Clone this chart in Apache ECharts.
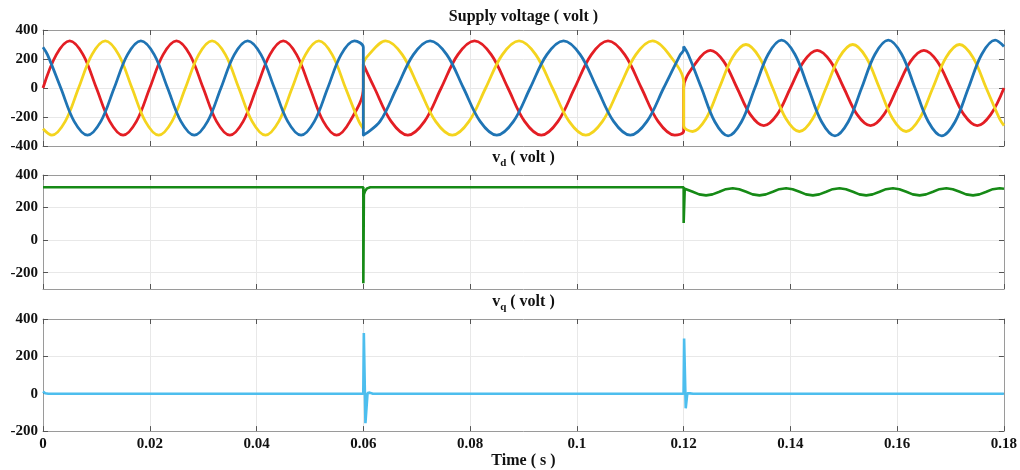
<!DOCTYPE html>
<html>
<head>
<meta charset="utf-8">
<script src="https://cdn.jsdelivr.net/npm/echarts@6/dist/echarts.min.js"></script>
<style>
  html, body { margin: 0; padding: 0; background: #fff; }
  #main { width: 1020px; height: 470px; }
</style>
</head>
<body>
<div id="main"></div>
<script>
// Supply voltages, one list of sample times per phase (each phase read at its own
// peaks / zero crossings). 0.06 and 0.12 appear twice: the jumps.
const redTime = [
  0, 0.0025, 0.005, 0.0075, 0.01, 0.0125, 0.015, 0.0175, 0.02, 0.0225, 0.025, 0.0275, 0.03,
  0.0325, 0.035, 0.0375, 0.04, 0.0425, 0.045, 0.0475, 0.05, 0.0525, 0.055, 0.0575, 0.06,
  0.06, 0.062083, 0.065208, 0.068333, 0.071458, 0.074583, 0.077708, 0.080833, 0.083958, 0.087083,
  0.090208, 0.093333, 0.096458, 0.099583, 0.102708, 0.105833, 0.108958, 0.112083, 0.115208, 0.118333, 0.12,
  0.12, 0.1225, 0.125, 0.1275, 0.13, 0.1325, 0.135, 0.1375, 0.14, 0.1425, 0.145, 0.1475, 0.15,
  0.1525, 0.155, 0.1575, 0.16, 0.1625, 0.165, 0.1675, 0.17, 0.1725, 0.175, 0.1775, 0.18
];
const redValue = [
  0, 230, 325, 230, 0, -230, -325, -230, 0, 230, 325, 230, 0, -230, -325, -230, 0, 230, 325, 230, 0, -230, -325, -230, 0,
  163, 0, -230, -325, -230, 0, 230, 325, 230, 0, -230, -325, -230, 0, 230, 325, 230, 0, -230, -325, -297,
  0, 184, 260, 184, 0, -184, -260, -184, 0, 184, 260, 184, 0, -184, -260, -184, 0, 184, 260, 184, 0, -184, -260, -184, 0
];

const yellowTime = [
  0, 0.001667, 0.004167, 0.006667, 0.009167, 0.011667, 0.014167, 0.016667, 0.019167, 0.021667, 0.024167,
  0.026667, 0.029167, 0.031667, 0.034167, 0.036667, 0.039167, 0.041667, 0.044167, 0.046667, 0.049167,
  0.051667, 0.054167, 0.056667, 0.059167, 0.06,
  0.06, 0.061042, 0.064167, 0.067292, 0.070417, 0.073542, 0.076667, 0.079792, 0.082917, 0.086042, 0.089167,
  0.092292, 0.095417, 0.098542, 0.101667, 0.104792, 0.107917, 0.111042, 0.114167, 0.117292, 0.12,
  0.12, 0.121667, 0.124167, 0.126667, 0.129167, 0.131667, 0.134167, 0.136667, 0.139167, 0.141667, 0.144167,
  0.146667, 0.149167, 0.151667, 0.154167, 0.156667, 0.159167, 0.161667, 0.164167, 0.166667, 0.169167,
  0.171667, 0.174167, 0.176667, 0.179167, 0.18
];
const yellowValue = [
  -281, -325, -230, 0, 230, 325, 230, 0, -230, -325, -230, 0, 230, 325, 230, 0, -230,
  -325, -230, 0, 230, 325, 230, 0, -230, -281,
  163, 230, 325, 230, 0, -230, -325, -230, 0, 230, 325, 230, 0, -230, -325, -230, 0, 230, 325, 230, 34,
  -260, -300, -212, 0, 212, 300, 212, 0, -212, -300, -212, 0, 212, 300, 212, 0, -212,
  -300, -212, 0, 212, 300, 212, 0, -212, -260
];

const blueTime = [
  0, 0.000833, 0.003333, 0.005833, 0.008333, 0.010833, 0.013333, 0.015833, 0.018333, 0.020833, 0.023333,
  0.025833, 0.028333, 0.030833, 0.033333, 0.035833, 0.038333, 0.040833, 0.043333, 0.045833, 0.048333,
  0.050833, 0.053333, 0.055833, 0.058333, 0.06,
  0.06, 0.063125, 0.06625, 0.069375, 0.0725, 0.075625, 0.07875, 0.081875, 0.085, 0.088125, 0.09125,
  0.094375, 0.0975, 0.100625, 0.10375, 0.106875, 0.11, 0.113125, 0.11625, 0.119375, 0.12,
  0.12, 0.120833, 0.123333, 0.125833, 0.128333, 0.130833, 0.133333, 0.135833, 0.138333, 0.140833, 0.143333,
  0.145833, 0.148333, 0.150833, 0.153333, 0.155833, 0.158333, 0.160833, 0.163333, 0.165833, 0.168333,
  0.170833, 0.173333, 0.175833, 0.178333, 0.18
];
const blueValue = [
  281, 230, 0, -230, -325, -230, 0, 230, 325, 230, 0, -230, -325, -230, 0, 230, 325,
  230, 0, -230, -325, -230, 0, 230, 325, 281,
  -325, -230, 0, 230, 325, 230, 0, -230, -325, -230, 0, 230, 325, 230, 0, -230, -325, -230, 0, 230, 263,
  286, 233, 0, -233, -330, -233, 0, 233, 330, 233, 0, -233, -330, -233, 0, 233, 330,
  233, 0, -233, -330, -233, 0, 233, 330, 286
];

// d-axis voltage
const vdTime = [
  0, 0.06, 0.06, 0.0601, 0.0603, 0.0607, 0.0613, 0.12, 0.12, 0.1202, 0.1204, 0.1217, 0.1229,
  0.1242, 0.1254, 0.1267, 0.1279, 0.1292, 0.1304, 0.1317, 0.1329,
  0.1342, 0.1354, 0.1367, 0.1379, 0.1392, 0.1404, 0.1417, 0.1429,
  0.1442, 0.1454, 0.1467, 0.1479, 0.1492, 0.1504, 0.1517, 0.1529,
  0.1542, 0.1554, 0.1567, 0.1579, 0.1592, 0.1604, 0.1617, 0.1629,
  0.1642, 0.1654, 0.1667, 0.1679, 0.1692, 0.1704, 0.1717, 0.1729,
  0.1742, 0.1754, 0.1767, 0.1779, 0.1792, 0.18
];
const vdValue = [
  325, 325, -265, 280, 300, 318, 325, 325, 105, 316, 312, 297, 281,
  275, 281, 297, 313, 319, 313, 297, 281,
  275, 281, 297, 313, 319, 313, 297, 281,
  275, 281, 297, 313, 319, 313, 297, 281,
  275, 281, 297, 313, 319, 313, 297, 281,
  275, 281, 297, 313, 319, 313, 297, 281,
  275, 281, 297, 313, 319, 316
];

// q-axis voltage
const vqTime = [0, 0.0004, 0.001, 0.06, 0.0601, 0.0604, 0.0608, 0.0612, 0.0618, 0.12, 0.1201, 0.1204, 0.1207, 0.1212, 0.1218, 0.18];
const vqValue = [12, 3, 0, 0, 325, -158, 4, 6, 0, 0, 295, -78, 3, 2, 0, 0];

// axis ranges and tick labels
const timeRange = [0, 0.18];
const timeStep = 0.02;
const yRanges = [[-400, 400], [-300, 400], [-200, 400]];
const yTicks = [[-400, -200, 0, 200, 400], [-200, 0, 200, 400], [-200, 0, 200, 400]];
const panelTitles = ['{t|Supply voltage ( volt )}', '{t|v}{s|d}{t| ( volt )}', '{t|v}{s|q}{t| ( volt )}'];
const timeTitle = 'Time ( s )';

const FONT = 'Liberation Serif';
const frameColor = '#9a9a9a';
const tickColor = '#555';
const gridColor = '#e8e8e8';
const labelStyle = { fontFamily: FONT, fontWeight: 'bold', fontSize: 15, color: '#111' };

const gridTops = [30, 175, 319];
const gridHeights = [116, 114, 115];
const titleGaps = [2, 6, 6];

function pairs(t, v) {
  return t.map((x, i) => [x, v[i]]);
}

const grids = [], xAxes = [], yAxes = [];
for (let i = 0; i < 3; i++) {
  grids.push({ left: 43, right: 16, top: gridTops[i], height: gridHeights[i] });
  // bottom time axis
  xAxes.push({
    gridIndex: i, type: 'value', position: 'bottom',
    min: timeRange[0], max: timeRange[1], interval: timeStep,
    axisLine: { onZero: false, lineStyle: { color: frameColor } },
    axisTick: { inside: true, length: 5, lineStyle: { color: tickColor } },
    axisLabel: Object.assign({ show: i === 2, margin: 6 }, labelStyle),
    splitLine: { show: true, lineStyle: { color: gridColor } },
    name: i === 2 ? timeTitle : '',
    nameLocation: 'middle', nameGap: 19,
    nameTextStyle: Object.assign({}, labelStyle, { fontSize: 16 })
  });
  // top edge of the box, carries the panel title
  xAxes.push({
    gridIndex: i, type: 'value', position: 'top',
    min: timeRange[0], max: timeRange[1], interval: timeStep,
    axisLine: { onZero: false, lineStyle: { color: frameColor } },
    axisTick: { inside: true, length: 5, lineStyle: { color: tickColor } },
    axisLabel: { show: false },
    splitLine: { show: false },
    name: panelTitles[i],
    nameLocation: 'middle', nameGap: titleGaps[i],
    nameTextStyle: {
      rich: {
        t: { fontFamily: FONT, fontWeight: 'bold', fontSize: 16, color: '#111', lineHeight: 22 },
        s: { fontFamily: FONT, fontWeight: 'bold', fontSize: 11, color: '#111', verticalAlign: 'bottom' }
      }
    }
  });
  yAxes.push({
    gridIndex: i, type: 'value', position: 'left',
    min: yRanges[i][0], max: yRanges[i][1],
    axisLine: { show: true, onZero: false, lineStyle: { color: frameColor } },
    axisTick: { show: true, inside: true, length: 5, customValues: yTicks[i], lineStyle: { color: tickColor } },
    axisLabel: Object.assign({ margin: 5, customValues: yTicks[i] }, labelStyle),
    splitLine: { show: true, lineStyle: { color: gridColor } }
  });
  yAxes.push({
    gridIndex: i, type: 'value', position: 'right',
    min: yRanges[i][0], max: yRanges[i][1],
    axisLine: { show: true, onZero: false, lineStyle: { color: frameColor } },
    axisTick: { show: true, inside: true, length: 5, customValues: yTicks[i], lineStyle: { color: tickColor } },
    axisLabel: { show: false },
    splitLine: { show: false }
  });
}

function line(name, grid, data, color, smooth, width) {
  return {
    name: name, type: 'line',
    xAxisIndex: grid * 2, yAxisIndex: grid * 2,
    data: data, showSymbol: false, symbol: 'none',
    smooth: smooth, lineStyle: { color: color, width: width },
    itemStyle: { color: color }
  };
}

const chart = echarts.init(document.getElementById('main'));
chart.setOption({
  animation: false,
  backgroundColor: '#fff',
  grid: grids,
  xAxis: xAxes,
  yAxis: yAxes,
  series: [
    line('va', 0, pairs(redTime, redValue), '#e31e24', 0.35, 2.8),
    line('vb', 0, pairs(yellowTime, yellowValue), '#f4d41e', 0.35, 2.8),
    line('vc', 0, pairs(blueTime, blueValue), '#1f74b4', 0.35, 2.8),
    line('vd', 1, pairs(vdTime, vdValue), '#168a16', false, 2.6),
    line('vq', 2, pairs(vqTime, vqValue), '#4dbeee', false, 2.6)
  ]
});
</script>
</body>
</html>
